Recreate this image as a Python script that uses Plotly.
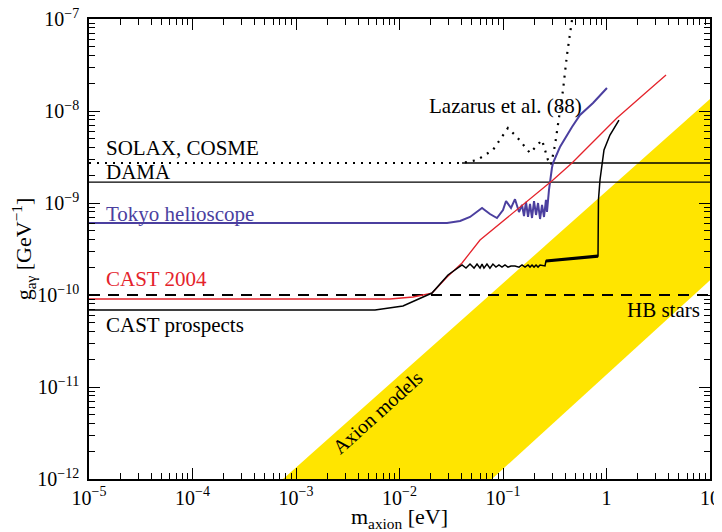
import plotly.graph_objects as go

# ---- data ----
band_m = [7.5e-4, 10, 10, 0.0783]
band_g = [1e-12, 1.35e-8, 1.45e-10, 1e-12]

solax_m = [4.02e-2, 10]
solax_g = [2.72e-9, 2.72e-9]

dama_m = [1e-5, 10]
dama_g = [1.69e-9, 1.69e-9]

hb_m = [1e-5, 10]
hb_g = [1e-10, 1e-10]

lazarus_m = [1e-5, 4.02e-2, 5.61e-2, 7.99e-2, 0.1117, 0.1366, 0.1824, 0.2383, 0.272, 0.291,
             0.318, 0.340, 0.380, 0.415, 0.464, 0.486]
lazarus_g = [2.72e-9, 2.72e-9, 2.93e-9, 3.77e-9, 6.53e-9, 5.21e-9, 3.49e-9, 4.84e-9, 2.93e-9, 2.59e-9,
             4.27e-9, 7.05e-9, 1.69e-8, 4.06e-8, 1.0e-7, 1.4e-7]

tokyo_m = [1e-5, 0.0288, 0.0385, 0.048, 0.0627, 0.0748, 0.0874, 0.100, 0.107, 0.1195, 0.1306,
           0.1428, 0.1527, 0.1596, 0.1668, 0.1745, 0.1824, 0.1907, 0.1994, 0.2085, 0.2180, 0.2279,
           0.2383, 0.2490, 0.260, 0.266, 0.278, 0.2844, 0.297, 0.304, 0.355, 0.464, 0.555, 0.741, 1.01]
tokyo_g = [6.06e-10, 6.06e-10, 6.37e-10, 7.05e-10, 8.83e-10, 7.59e-10, 6.87e-10, 8.39e-10, 1.05e-9,
           8.83e-10, 1.10e-9, 7.98e-10, 9.51e-10, 7.22e-10, 1.03e-9, 7.05e-10, 9.75e-10, 6.87e-10,
           1.05e-9, 7.41e-10, 1.0e-9, 6.70e-10, 9.51e-10, 7.05e-10, 1.08e-9, 7.98e-10, 1.38e-9,
           1.78e-9, 2.40e-9, 2.72e-9, 4.06e-9, 6.70e-9, 9.05e-9, 1.22e-8, 1.78e-8]

cast04_m = [1e-5, 8.10e-3, 1.35e-2, 2.06e-2, 2.88e-2, 4.02e-2, 6.00e-2, 0.304, 0.464, 1.26, 2.63, 3.76]
cast04_g = [9.05e-11, 9.05e-11, 9.51e-11, 1.05e-10, 1.57e-10, 2.23e-10, 3.96e-10, 1.78e-9, 2.72e-9,
            8.39e-9, 1.73e-8, 2.46e-8]

prosp_m = [1e-5, 5.80e-3, 1.08e-2, 2.06e-2, 2.94e-2, 4.02e-2, 4.39e-2, 4.80e-2, 5.25e-2, 5.61e-2,
           6.00e-2, 6.27e-2, 6.55e-2, 7.00e-2, 7.48e-2, 7.99e-2, 8.55e-2, 9.14e-2, 9.78e-2, 0.1045,
           0.1117, 0.1195, 0.1306, 0.1428, 0.1527, 0.1632, 0.1745, 0.1824, 0.1907, 0.1994, 0.2085,
           0.2180, 0.2279, 0.2434, 0.2546, 0.260, 0.828, 0.836, 0.865, 0.946, 1.08, 1.32]
prosp_g = [6.87e-11, 6.87e-11, 7.59e-11, 1.05e-10, 1.65e-10, 2.12e-10, 1.96e-10, 2.17e-10, 1.96e-10,
           2.17e-10, 1.96e-10, 2.17e-10, 1.96e-10, 2.17e-10, 1.96e-10, 2.17e-10, 2.01e-10, 2.12e-10,
           2.01e-10, 2.12e-10, 2.01e-10, 2.07e-10, 2.07e-10, 2.01e-10, 2.12e-10, 2.01e-10, 2.12e-10,
           2.01e-10, 2.12e-10, 2.01e-10, 2.12e-10, 2.01e-10, 2.12e-10, 2.07e-10, 2.07e-10, 2.34e-10,
           2.65e-10, 1.08e-9, 1.78e-9, 3.77e-9, 5.48e-9, 7.98e-9]

thick_m = [0.260, 0.828]
thick_g = [2.34e-10, 2.65e-10]

xtick_vals = [1e-5, 1e-4, 1e-3, 1e-2, 1e-1, 1, 10]
xtick_text = ["10<sup>−5</sup>", "10<sup>−4</sup>", "10<sup>−3</sup>", "10<sup>−2</sup>",
              "10<sup>−1</sup>", "1", "10"]
ytick_vals = [1e-12, 1e-11, 1e-10, 1e-9, 1e-8, 1e-7]
ytick_text = ["10<sup>−12</sup>", "10<sup>−11</sup>", "10<sup>−10</sup>", "10<sup>−9</sup>",
              "10<sup>−8</sup>", "10<sup>−7</sup>"]

YELLOW = "#FFE500"
BLUE = "#4B3F9F"
RED = "#E4232B"
FONT = "Liberation Serif"

fig = go.Figure()
fig.add_trace(go.Scatter(x=band_m, y=band_g, fill="toself", fillcolor=YELLOW,
                         line=dict(width=0, color=YELLOW), mode="lines", hoverinfo="skip"))
fig.add_trace(go.Scatter(x=solax_m, y=solax_g, mode="lines", line=dict(color="black", width=1.3)))
fig.add_trace(go.Scatter(x=dama_m, y=dama_g, mode="lines", line=dict(color="black", width=1.3)))
fig.add_trace(go.Scatter(x=hb_m, y=hb_g, mode="lines",
                         line=dict(color="black", width=1.8, dash="11px,8px")))
fig.add_trace(go.Scatter(x=lazarus_m, y=lazarus_g, mode="lines",
                         line=dict(color="black", width=2.2, dash="2px,6px")))
fig.add_trace(go.Scatter(x=tokyo_m, y=tokyo_g, mode="lines", line=dict(color=BLUE, width=2)))
fig.add_trace(go.Scatter(x=cast04_m, y=cast04_g, mode="lines", line=dict(color=RED, width=1.3)))
fig.add_trace(go.Scatter(x=prosp_m, y=prosp_g, mode="lines", line=dict(color="black", width=1.5)))
fig.add_trace(go.Scatter(x=thick_m, y=thick_g, mode="lines", line=dict(color="black", width=3.2)))

def lab(text, x, y, color="black", xanchor="left", angle=0, size=21, xshift=-3):
    fig.add_annotation(text=text, x=x, y=y, xref="x", yref="y", showarrow=False,
                       xanchor=xanchor, yanchor="middle", textangle=angle, xshift=xshift,
                       font=dict(family=FONT, size=size, color=color))

lab("SOLAX, COSME", -4.826, -8.402)
lab("DAMA", -4.826, -8.663)
lab("Tokyo helioscope", -4.826, -9.120, color=BLUE)
lab("CAST 2004", -4.826, -9.826, color=RED)
lab("CAST prospects", -4.826, -10.326)
lab("Lazarus et al. (88)", -1.705, -7.946)
lab("HB stars", 0.903, -10.163, xanchor="right", xshift=2)
lab("Axion models", -2.208, -11.272, xanchor="center", angle=-42, size=20, xshift=0)

axis_common = dict(type="log", ticks="inside", ticklen=11, tickwidth=1.3, tickcolor="black",
                   showline=True, linecolor="black", linewidth=1.6, mirror="allticks",
                   showgrid=False, zeroline=False, automargin=False, ticklabeloverflow="allow",
                   tickfont=dict(family=FONT, size=20, color="black"),
                   minor=dict(ticks="inside", ticklen=6, tickwidth=1.1, tickcolor="black",
                              dtick="D1", showgrid=False))

fig.update_xaxes(**axis_common, range=[-5, 1], tickvals=xtick_vals, ticktext=xtick_text,
                 title=dict(text="m<sub>axion</sub> [eV]", font=dict(family=FONT, size=22),
                            standoff=4))
fig.update_yaxes(**axis_common, range=[-12, -7], tickvals=ytick_vals, ticktext=ytick_text,
                 ticklabelstandoff=4,
                 title=dict(text="g<sub>aγ</sub> [GeV<sup>−1</sup>]", font=dict(family=FONT, size=22),
                            standoff=2))

fig.update_layout(width=714, height=524, margin=dict(l=81, r=12, t=11, b=53),
                  paper_bgcolor="white", plot_bgcolor="white", showlegend=False,
                  font=dict(family=FONT, color="black"))

fig.write_html("out.html")
